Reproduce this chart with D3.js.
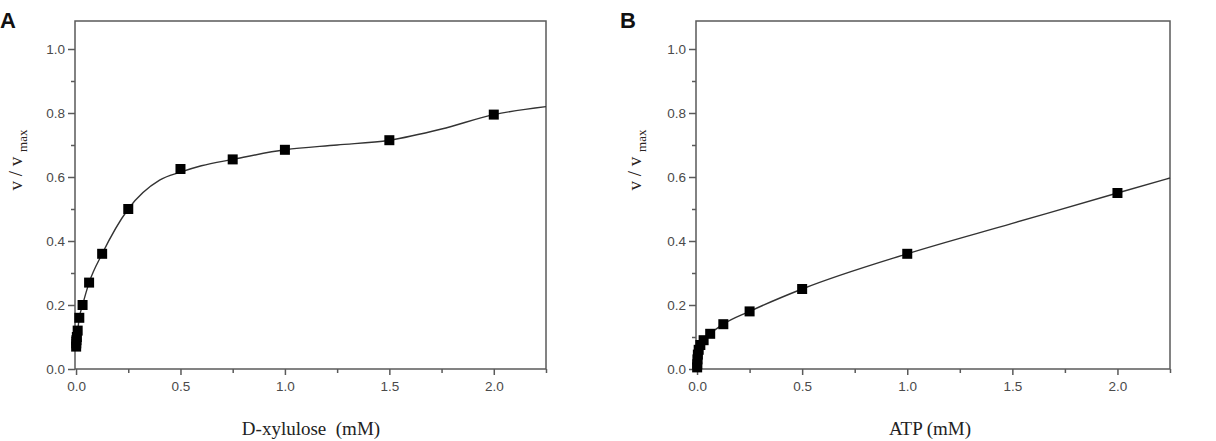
<!DOCTYPE html>
<html>
<head>
<meta charset="utf-8">
<script src="https://cdn.jsdelivr.net/npm/d3@7/dist/d3.min.js"></script>
<style>
  body { margin: 0; background: #fff; }
  svg { display: block; }
</style>
</head>
<body>
<svg id="chart" width="1216" height="441"></svg>
<script>
// panel A : D-xylulose
var xylX = [0.0005, 0.001, 0.002, 0.0039, 0.0078, 0.0156, 0.03125, 0.0625, 0.125, 0.25, 0.5, 0.75, 1.0, 1.5, 2.0];
var xylY = [0.07, 0.08, 0.09, 0.10, 0.12, 0.16, 0.20, 0.27, 0.36, 0.50, 0.625, 0.655, 0.685, 0.715, 0.795];
var xylFitX = [0, 0.0156, 0.03125, 0.0625, 0.125, 0.25, 0.4, 0.5, 0.6, 0.75, 1.0, 1.25, 1.5, 1.75, 2.0, 2.25];
var xylFitY = [0.07, 0.16, 0.20, 0.27, 0.36, 0.50, 0.59, 0.615, 0.635, 0.655, 0.685, 0.70, 0.715, 0.75, 0.795, 0.82];

// panel B : ATP
var atpX = [0.0005, 0.001, 0.002, 0.0039, 0.0078, 0.0156, 0.03125, 0.0625, 0.125, 0.25, 0.5, 1.0, 2.0];
var atpY = [0.005, 0.015, 0.03, 0.045, 0.06, 0.075, 0.09, 0.11, 0.14, 0.18, 0.25, 0.36, 0.55];
var atpFitX = [0, 0.002, 0.0078, 0.03125, 0.0625, 0.125, 0.25, 0.5, 1.0, 1.5, 2.0, 2.25];
var atpFitY = [0, 0.03, 0.06, 0.09, 0.11, 0.14, 0.18, 0.25, 0.36, 0.455, 0.55, 0.597];

var xTicks = [0, 0.5, 1.0, 1.5, 2.0];
var xMinor = [0.25, 0.75, 1.25, 1.75, 2.25];
var yTicks = [0, 0.2, 0.4, 0.6, 0.8, 1.0];
var yMinor = [0.1, 0.3, 0.5, 0.7, 0.9];

var svg = d3.select("#chart");
var frameColor = "#5a5a5a";

function panel(opts) {
    var g = svg.append("g");
    var x = d3.scaleLinear().domain([-0.005, 2.25]).range([opts.left, opts.right]);
    var y = d3.scaleLinear().domain([0, 1.0875]).range([369, 21]);

    // frame
    g.append("rect")
        .attr("x", opts.left).attr("y", 21)
        .attr("width", opts.right - opts.left).attr("height", 348)
        .attr("fill", "none").attr("stroke", frameColor).attr("stroke-width", 1.5);

    // axes
    g.append("g").attr("transform", "translate(0,369)")
        .call(d3.axisBottom(x).tickValues(xTicks).tickSize(6).tickPadding(6)
            .tickFormat(d3.format(".1f")));
    g.append("g").attr("transform", "translate(0,369)")
        .call(d3.axisBottom(x).tickValues(xMinor).tickSize(4).tickFormat(""));
    g.append("g").attr("transform", "translate(" + opts.left + ",0)")
        .call(d3.axisLeft(y).tickValues(yTicks).tickSize(7).tickPadding(3)
            .tickFormat(d3.format(".1f")));
    g.append("g").attr("transform", "translate(" + opts.left + ",0)")
        .call(d3.axisLeft(y).tickValues(yMinor).tickSize(4).tickFormat(""));

    g.selectAll(".domain").remove();
    g.selectAll(".tick line").attr("stroke", frameColor).attr("stroke-width", 1.5);
    g.selectAll(".tick text")
        .attr("fill", "#4a4a4a")
        .style("font-family", "'Liberation Sans', Arial, sans-serif")
        .style("font-size", "13.5px");

    // fitted curve
    var line = d3.line()
        .x(function(d) { return x(d[0]); })
        .y(function(d) { return y(d[1]); })
        .curve(d3.curveMonotoneX);
    g.append("path")
        .datum(d3.zip(opts.fitX, opts.fitY))
        .attr("d", line)
        .attr("fill", "none").attr("stroke", "#333").attr("stroke-width", 1.4);

    // data markers
    var s = 10;
    g.selectAll("rect.pt")
        .data(d3.zip(opts.xs, opts.ys))
        .enter().append("rect")
        .attr("class", "pt")
        .attr("x", function(d) { return x(d[0]) - s / 2; })
        .attr("y", function(d) { return y(d[1]) - s / 2; })
        .attr("width", s).attr("height", s)
        .attr("fill", "#000");

    // x label
    g.append("text")
        .attr("x", opts.xLabelX).attr("y", 435)
        .attr("text-anchor", "middle")
        .style("font-family", "'Liberation Serif', 'Times New Roman', serif")
        .style("font-size", "19px")
        .style("white-space", "pre")
        .attr("fill", "#222")
        .text(opts.xLabel);

    // y label : v / v max
    var yl = g.append("text")
        .attr("transform", "translate(" + opts.yLabelX + ",160) rotate(-90)")
        .attr("text-anchor", "middle")
        .style("font-family", "'Liberation Serif', 'Times New Roman', serif")
        .style("font-size", "19px")
        .attr("fill", "#2a2220");
    yl.append("tspan").text("v / v ");
    yl.append("tspan").attr("dy", 5).style("font-size", "13px").text("max");

    // panel letter
    g.append("text")
        .attr("x", opts.letterX).attr("y", 28)
        .style("font-family", "'Liberation Sans', Arial, sans-serif")
        .style("font-weight", "bold")
        .style("font-size", "22px")
        .attr("fill", "#111")
        .text(opts.letter);
}

panel({ left: 75, right: 546, xs: xylX, ys: xylY, fitX: xylFitX, fitY: xylFitY,
        xLabel: "D-xylulose\u00a0\u00a0(mM)", xLabelX: 311, yLabelX: 22, letter: "A", letterX: 0 });
panel({ left: 696, right: 1170, xs: atpX, ys: atpY, fitX: atpFitX, fitY: atpFitY,
        xLabel: "ATP (mM)", xLabelX: 930, yLabelX: 641, letter: "B", letterX: 620 });
</script>
</body>
</html>
